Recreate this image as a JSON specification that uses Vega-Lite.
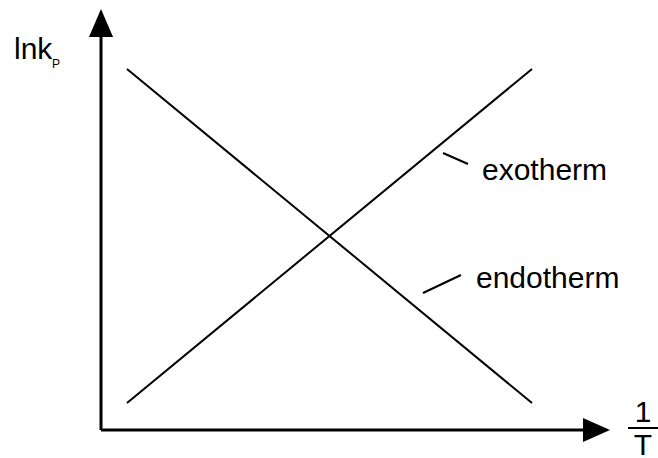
{
  "$schema": "https://vega.github.io/schema/vega-lite/v6.json",
  "width": 658,
  "height": 458,
  "padding": 0,
  "autosize": {"type": "none"},
  "background": "white",
  "config": {"view": {"stroke": null}},
  "datasets": {
    "axes": [
      {"x1": 0, "y1": 0, "x2": 0, "y2": 78.6},
      {"x1": 0, "y1": 0, "x2": 96.4, "y2": 0}
    ],
    "curves": [
      {"name": "endotherm", "x1": 5.2, "y1": 72.2, "x2": 86.2, "y2": 5.4},
      {"name": "exotherm", "x1": 5.2, "y1": 5.4, "x2": 86.2, "y2": 72.2}
    ],
    "leaders": [
      {"name": "exotherm", "x1": 68.4, "y1": 55.4, "x2": 73.4, "y2": 53.2},
      {"name": "endotherm", "x1": 64.4, "y1": 27.4, "x2": 72.0, "y2": 31.0},
      {"name": "fraction", "x1": 105.4, "y1": 0.4, "x2": 111.4, "y2": 0.4}
    ],
    "arrows": [
      {"axis": "y", "x": 0, "y": 81.4},
      {"axis": "x", "x": 99.1, "y": 0}
    ],
    "labels": [
      {"text": "exotherm", "x": 76.2, "y": 50.0},
      {"text": "endotherm", "x": 75.0, "y": 28.4},
      {"text": "lnk", "x": -17.4, "y": 74.2}
    ],
    "small": [
      {"text": "P", "x": -9.8, "y": 72.4}
    ],
    "frac": [
      {"text": "1", "x": 108.4, "y": 1.6},
      {"text": "T", "x": 108.4, "y": -5.0}
    ]
  },
  "layer": [
    {
      "data": {"name": "axes"},
      "mark": {"type": "rule", "strokeWidth": 3, "color": "black"},
      "encoding": {
        "x": {"field": "x1", "type": "quantitative", "scale": {"domain": [-20.2, 111.4], "zero": false, "nice": false}, "axis": null},
        "y": {"field": "y1", "type": "quantitative", "scale": {"domain": [-5.6, 86], "zero": false, "nice": false}, "axis": null},
        "x2": {"field": "x2"},
        "y2": {"field": "y2"}
      }
    },
    {
      "data": {"name": "curves"},
      "mark": {"type": "rule", "strokeWidth": 2, "color": "black"},
      "encoding": {
        "x": {"field": "x1", "type": "quantitative"},
        "y": {"field": "y1", "type": "quantitative"},
        "x2": {"field": "x2"},
        "y2": {"field": "y2"}
      }
    },
    {
      "data": {"name": "leaders"},
      "mark": {"type": "rule", "strokeWidth": 2, "color": "black"},
      "encoding": {
        "x": {"field": "x1", "type": "quantitative"},
        "y": {"field": "y1", "type": "quantitative"},
        "x2": {"field": "x2"},
        "y2": {"field": "y2"}
      }
    },
    {
      "data": {"name": "arrows"},
      "transform": [{"filter": "datum.axis === 'y'"}],
      "mark": {"type": "point", "filled": true, "color": "black", "opacity": 1, "size": 784, "shape": "M-0.86,1 L0,-1 L0.86,1 Z"},
      "encoding": {
        "x": {"field": "x", "type": "quantitative"},
        "y": {"field": "y", "type": "quantitative"}
      }
    },
    {
      "data": {"name": "arrows"},
      "transform": [{"filter": "datum.axis === 'x'"}],
      "mark": {"type": "point", "filled": true, "color": "black", "opacity": 1, "size": 729, "shape": "M-1,-0.89 L1,0 L-1,0.89 Z"},
      "encoding": {
        "x": {"field": "x", "type": "quantitative"},
        "y": {"field": "y", "type": "quantitative"}
      }
    },
    {
      "data": {"name": "labels"},
      "mark": {"type": "text", "font": "Liberation Sans", "fontSize": 30, "align": "left", "baseline": "alphabetic", "color": "black"},
      "encoding": {
        "x": {"field": "x", "type": "quantitative"},
        "y": {"field": "y", "type": "quantitative"},
        "text": {"field": "text"}
      }
    },
    {
      "data": {"name": "small"},
      "mark": {"type": "text", "font": "Liberation Sans", "fontSize": 12, "align": "left", "baseline": "alphabetic", "color": "black"},
      "encoding": {
        "x": {"field": "x", "type": "quantitative"},
        "y": {"field": "y", "type": "quantitative"},
        "text": {"field": "text"}
      }
    },
    {
      "data": {"name": "frac"},
      "mark": {"type": "text", "font": "Liberation Sans", "fontSize": 30, "align": "center", "baseline": "alphabetic", "color": "black"},
      "encoding": {
        "x": {"field": "x", "type": "quantitative"},
        "y": {"field": "y", "type": "quantitative"},
        "text": {"field": "text"}
      }
    }
  ]
}
